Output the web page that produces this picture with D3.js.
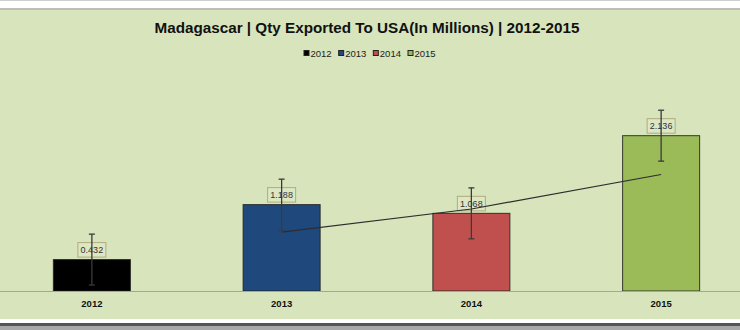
<!DOCTYPE html>
<html><head><meta charset="utf-8">
<script src="https://cdn.jsdelivr.net/npm/d3@7"></script>
<style>html,body{margin:0;padding:0;background:#fff;}svg{display:block;}</style>
</head><body>
<svg id="chart" width="740" height="330"></svg>
<script>
const titleText = "Madagascar | Qty Exported To USA(In Millions) | 2012-2015";
const categories = ["2012", "2013", "2014", "2015"];
const values = [0.432, 1.188, 1.068, 2.136];
const errorValues = [0.35, 0.35, 0.35, 0.35];
const barColors = ["#000000", "#1f497d", "#c0504d", "#9bbb59"];
const trendCategories = ["2013", "2014", "2015"];
const trendValues = [0.81, 1.128, 1.602];
const yDomain = [0, 2.5];

const svg = d3.select("#chart");
const bg = "#d8e4bc";

// frame
svg.append("rect").attr("x",0).attr("y",0).attr("width",740).attr("height",1).attr("fill","#cfcfcf");
svg.append("rect").attr("x",0).attr("y",8).attr("width",740).attr("height",2).attr("fill","#bdbdbd");
svg.append("rect").attr("x",0).attr("y",10).attr("width",740).attr("height",309).attr("fill",bg);
svg.append("rect").attr("x",0).attr("y",323).attr("width",740).attr("height",3).attr("fill","#555");
svg.append("rect").attr("x",0).attr("y",326).attr("width",740).attr("height",4).attr("fill","#a8a8a8");

// title
svg.append("text").attr("x",367).attr("y",33).attr("text-anchor","middle")
  .attr("font-family","'Liberation Sans', Arial, sans-serif").attr("font-weight","bold")
  .attr("font-size",14.5).attr("fill","#111")
  .attr("textLength",425).attr("lengthAdjust","spacingAndGlyphs")
  .text(titleText);

// legend
const lg = svg.append("g");
const lx = d3.scalePoint().domain(categories).range([303.5, 407.5]);
categories.forEach((c,i)=>{
  const g = lg.append("g").attr("transform",`translate(${lx(c)},0)`);
  g.append("rect").attr("x",0.5).attr("y",50.5).attr("width",5).attr("height",5)
    .attr("fill",barColors[i]).attr("stroke","#222").attr("stroke-width",1);
  g.append("text").attr("x",7).attr("y",56.5)
    .attr("font-family","'Liberation Sans', Arial, sans-serif").attr("font-size",9.5)
    .attr("fill","#222").text(c);
});

// scales
const x = d3.scaleBand().domain(categories).range([-3, 756]).paddingInner(0.594).paddingOuter(0.297);
const y = d3.scaleLinear().domain(yDomain).range([291, 109.2]);

// bars
svg.append("g").selectAll("rect").data(categories).join("rect")
  .attr("x", d=>x(d)).attr("width", x.bandwidth())
  .attr("y", (d,i)=>y(values[i])).attr("height", (d,i)=>y(0)-y(values[i]))
  .attr("fill",(d,i)=>barColors[i]).attr("stroke","#1e1e1e").attr("stroke-opacity",0.85).attr("stroke-width",1);

// axis
const axis = d3.axisBottom(x).tickSize(0).tickPadding(9);
const ag = svg.append("g").attr("transform",`translate(0,${y(0)})`).call(axis);
ag.select(".domain").remove();
svg.append("line").attr("x1",0).attr("x2",740).attr("y1",y(0)+0.5).attr("y2",y(0)+0.5)
  .attr("stroke","#a3a895").attr("stroke-width",1.2);
ag.selectAll("text").attr("font-family","'Liberation Sans', Arial, sans-serif")
  .attr("font-weight","bold").attr("font-size",9.5).attr("fill","#111");

// data labels
const cx = d => x(d) + x.bandwidth()/2;
const lbl = svg.append("g");
categories.forEach((c,i)=>{
  const top = y(values[i]);
  lbl.append("rect").attr("x",cx(c)-14).attr("y",top-17).attr("width",28).attr("height",14.5)
    .attr("fill","#dce7c4").attr("stroke","#b2ab7c").attr("stroke-width",1);
  lbl.append("text").attr("x",cx(c)).attr("y",top-6.5).attr("text-anchor","middle")
    .attr("font-family","'Liberation Sans', Arial, sans-serif").attr("font-size",9)
    .attr("fill","#333").text(values[i].toFixed(3));
});

// trendline (moving average)
const line = d3.line().x(d=>cx(d[0])).y(d=>y(d[1]));
svg.append("path").datum(trendCategories.map((c,i)=>[c,trendValues[i]]))
  .attr("d",line).attr("fill","none").attr("stroke","#2d2d2d").attr("stroke-width",1.2);

// error bars
const eb = svg.append("g").attr("stroke","#3a3a3a").attr("stroke-width",1.3);
categories.forEach((c,i)=>{
  const hi = y(values[i]+errorValues[i]), lo = y(values[i]-errorValues[i]);
  eb.append("line").attr("x1",cx(c)).attr("x2",cx(c)).attr("y1",hi).attr("y2",lo);
  eb.append("line").attr("x1",cx(c)-3).attr("x2",cx(c)+3).attr("y1",hi).attr("y2",hi);
  eb.append("line").attr("x1",cx(c)-3).attr("x2",cx(c)+3).attr("y1",lo).attr("y2",lo);
});
</script>
</body></html>
